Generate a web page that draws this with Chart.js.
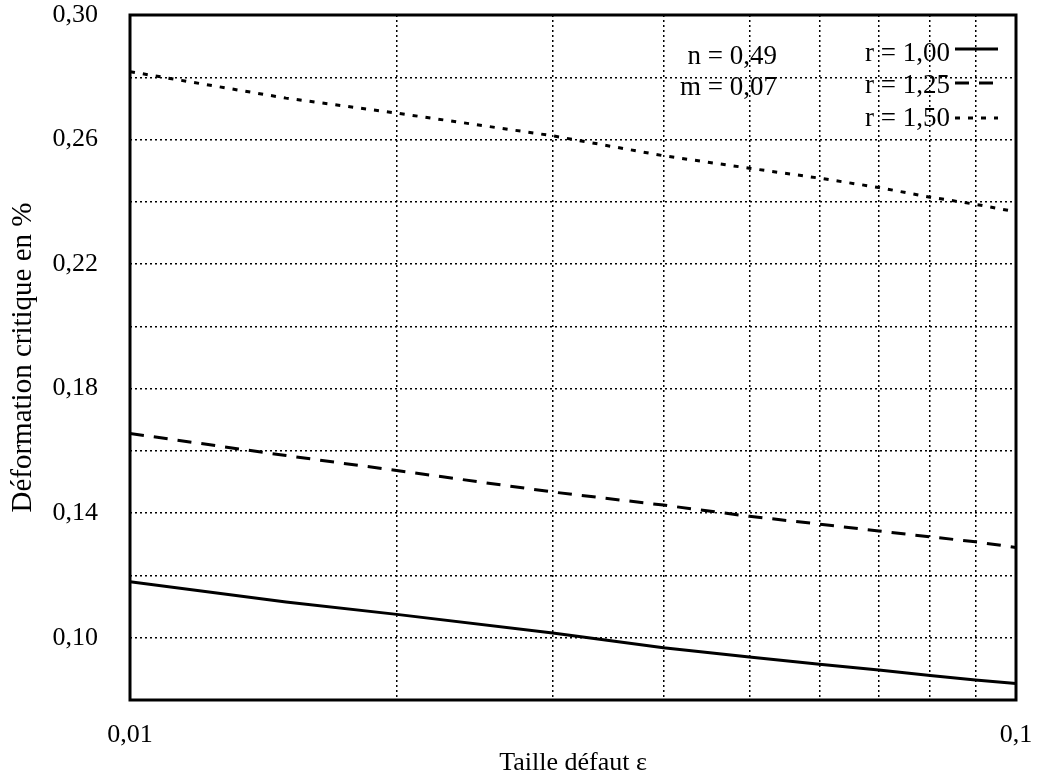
<!DOCTYPE html>
<html lang="fr">
<head>
    <meta charset="UTF-8">
    <title>Déformation critique</title>
    <script src="https://cdn.jsdelivr.net/npm/chart.js"></script>
    <style>
        html, body { margin: 0; padding: 0; background: #fff; }
        #wrap { width: 1037px; height: 783px; }
    </style>
</head>
<body>
    <div id="wrap"><canvas id="chart" width="1037" height="783"></canvas></div>

    <script>
        // Taille du défaut (axe log)
        const epsilon = [0.01, 0.015, 0.02, 0.03, 0.04, 0.05, 0.06, 0.07, 0.08, 0.09, 0.1];

        // Déformation critique pour chaque valeur de r
        const r100 = [0.118, 0.1115, 0.1075, 0.1015, 0.0968, 0.0938, 0.0915, 0.0896, 0.0879, 0.0864, 0.0853];
        const r125 = [0.1656, 0.1585, 0.1537, 0.1468, 0.1426, 0.1390, 0.1365, 0.1343, 0.1324, 0.1308, 0.1290];
        const r150 = [0.2818, 0.2733, 0.2685, 0.2612, 0.2548, 0.2508, 0.2476, 0.2446, 0.2415, 0.2392, 0.2368];

        const seriesLabels = ['r = 1,00', 'r = 1,25', 'r = 1,50'];
        const paramLabels = ['n = 0,49', 'm = 0,07'];

        // Grille : x de 0,01 à 0,1 ; y de 0,08 à 0,30
        const xTicks = [0.01, 0.02, 0.03, 0.04, 0.05, 0.06, 0.07, 0.08, 0.09, 0.1];
        const xLabelled = [0.01, 0.1];

        const FONT = "'Liberation Serif', 'Times New Roman', serif";
        const dashes = [[], [14, 10], [5, 8]];

        const toPoints = vals => vals.map((v, i) => ({ x: epsilon[i], y: v }));
        const comma = (v, d) => v.toFixed(d).replace('.', ',');

        // Cadre et légende dessinés à la main
        const framePlugin = {
            id: 'frame',
            afterDraw(chart) {
                const { ctx, chartArea: a } = chart;
                ctx.save();
                ctx.strokeStyle = '#000';
                ctx.lineWidth = 3;
                ctx.setLineDash([]);
                ctx.strokeRect(a.left, a.top, a.right - a.left, a.bottom - a.top);

                ctx.fillStyle = '#000';
                ctx.font = '27px ' + FONT;
                ctx.textAlign = 'right';
                ctx.textBaseline = 'middle';
                ctx.fillText(paramLabels[0], 777, 57);
                ctx.fillText(paramLabels[1], 777, 88);

                const ys = [54, 86, 119];
                const sampleY = [49, 83, 118];
                seriesLabels.forEach((lab, i) => {
                    ctx.fillText(lab, 950, ys[i]);
                    ctx.beginPath();
                    ctx.setLineDash(dashes[i]);
                    ctx.lineWidth = 3;
                    ctx.moveTo(955, sampleY[i]);
                    ctx.lineTo(998, sampleY[i]);
                    ctx.stroke();
                });
                ctx.restore();
            }
        };

        const lineSet = (label, vals, dash) => ({
            label: label,
            data: toPoints(vals),
            borderColor: '#000',
            borderWidth: 3,
            borderDash: dash,
            pointRadius: 0,
            tension: 0,
            fill: false
        });

        new Chart(document.getElementById('chart'), {
            type: 'line',
            data: {
                datasets: [
                    lineSet(seriesLabels[0], r100, dashes[0]),
                    lineSet(seriesLabels[1], r125, dashes[1]),
                    lineSet(seriesLabels[2], r150, dashes[2])
                ]
            },
            options: {
                responsive: false,
                animation: false,
                layout: { padding: { top: 15, right: 21, left: 0, bottom: 0 } },
                plugins: {
                    legend: { display: false },
                    tooltip: { enabled: false }
                },
                scales: {
                    x: {
                        type: 'logarithmic',
                        min: 0.01,
                        max: 0.1,
                        afterBuildTicks: scale => {
                            scale.ticks = xTicks.map(v => ({ value: v }));
                        },
                        afterFit: scale => {
                            scale.height = 83;
                            scale.paddingLeft = 0;
                            scale.paddingRight = 0;
                        },
                        grid: { color: '#000', lineWidth: 1.5, drawTicks: false },
                        border: { display: false, dash: [2, 3] },
                        ticks: {
                            color: '#000',
                            font: { family: FONT, size: 26 },
                            padding: 20,
                            maxRotation: 0,
                            autoSkip: false,
                            callback: v => xLabelled.includes(v) ? comma(v, v < 0.05 ? 2 : 1) : ''
                        },
                        title: {
                            display: true,
                            text: 'Taille défaut ε',
                            color: '#000',
                            font: { family: FONT, size: 26 },
                            padding: { top: 0, bottom: 4 }
                        }
                    },
                    y: {
                        min: 0.08,
                        max: 0.30,
                        afterFit: scale => {
                            scale.width = 130;
                            scale.paddingTop = 0;
                            scale.paddingBottom = 0;
                        },
                        grid: { color: '#000', lineWidth: 1.5, drawTicks: false },
                        border: { display: false, dash: [2, 3] },
                        ticks: {
                            stepSize: 0.02,
                            color: '#000',
                            font: { family: FONT, size: 26 },
                            padding: 32,
                            autoSkip: false,
                            callback: v => Math.round(v * 100) % 4 === 2 ? comma(v, 2) : ''
                        },
                        title: {
                            display: true,
                            text: 'Déformation critique en %',
                            color: '#000',
                            font: { family: FONT, size: 29 },
                            padding: { top: 6, bottom: 0 }
                        }
                    }
                }
            },
            plugins: [framePlugin]
        });
    </script>
</body>
</html>
